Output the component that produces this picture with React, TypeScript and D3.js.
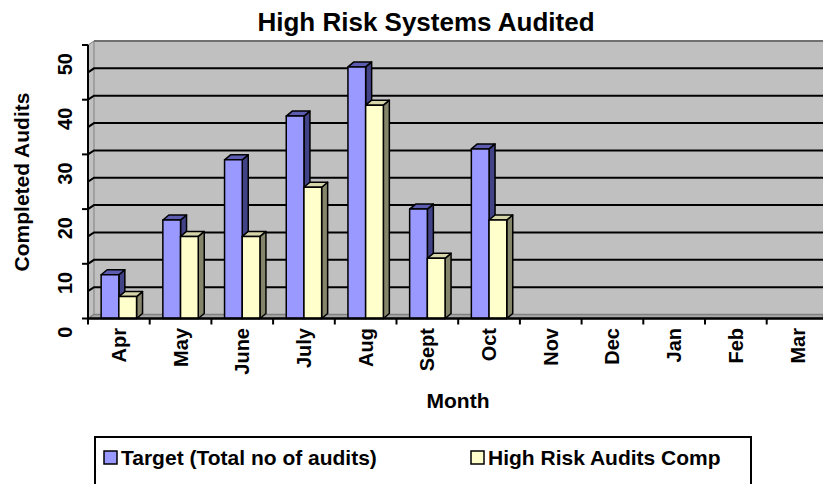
import React, { useRef, useEffect } from "react";
import * as d3 from "d3";

const months = ["Apr", "May", "June", "July", "Aug", "Sept", "Oct", "Nov", "Dec", "Jan", "Feb", "Mar"];
const targetAudits = [8, 18, 29, 37, 46, 20, 31];
const highRiskComp = [4, 15, 15, 24, 39, 11, 18];
const yTicks = [0, 10, 20, 30, 40, 50];
const gridValues = [5, 10, 15, 20, 25, 30, 35, 40, 45];
const seriesNames = ["Target (Total no of audits)", "High Risk Audits Comp"];

const FONT = "Arial, 'Liberation Sans', sans-serif";

export default function App() {
  const svgRef = useRef<SVGSVGElement>(null);

  useEffect(() => {
    const svg = d3.select(svgRef.current);
    svg.selectAll("*").remove();

    const W = 823, H = 484;
    const left = 88, bottom = 318.5, top = 45;
    const band = 61.7;
    const right = W;
    // 3d offsets: wall and bars
    const wdx = 6, wdy = -4;
    const bdx = 6, bdy = -5;

    const x = d3.scaleBand().domain(months).range([left, left + band * months.length]);
    const x1 = d3.scaleBand().domain(["t", "c"]).range([0, x.bandwidth()]).paddingOuter(0.743);
    const y = d3.scaleLinear().domain([0, 50]).range([bottom, top]);

    // back wall
    svg.append("rect")
      .attr("x", left + wdx).attr("y", y(50) + wdy)
      .attr("width", right - left - wdx).attr("height", y(0) - y(50))
      .style("fill", "#c0c0c0");
    // left side wall
    svg.append("polygon")
      .attr("points", [[left, y(50)], [left + wdx, y(50) + wdy], [left + wdx, y(0) + wdy], [left, y(0)]].join(" "))
      .style("fill", "#c0c0c0").style("stroke", "#808080").style("stroke-width", 1);
    // floor
    svg.append("polygon")
      .attr("points", [[left, y(0)], [left + wdx, y(0) + wdy], [right, y(0) + wdy], [right, y(0)]].join(" "))
      .style("fill", "#a8a8a8").style("stroke", "#808080").style("stroke-width", 1.5);
    // top edge of wall
    svg.append("line")
      .attr("x1", left + wdx).attr("x2", right)
      .attr("y1", y(50) + wdy).attr("y2", y(50) + wdy)
      .style("stroke", "#707070").style("stroke-width", 2);

    // gridlines, bent across side wall
    svg.selectAll("path.grid")
      .data(gridValues)
      .enter().append("path")
      .attr("class", "grid")
      .attr("d", v => `M${left},${y(v)}L${left + wdx},${y(v) + wdy}L${right},${y(v) + wdy}`)
      .style("fill", "none").style("stroke", "#000").style("stroke-width", 2);

    // bars
    const series = [
      { key: "t", values: targetAudits, front: "#9999ff", side: "#424287", topc: "#5c5cb0" },
      { key: "c", values: highRiskComp, front: "#ffffcc", side: "#85856b", topc: "#d6d6aa" },
    ];
    const bw = x1.bandwidth();
    months.forEach((m, i) => {
      series.forEach(s => {
        const v = s.values[i];
        if (v === undefined) return;
        const bx = (x(m) as number) + (x1(s.key) as number);
        const by = y(v);
        const g = svg.append("g").attr("class", "bar");
        g.append("polygon")
          .attr("points", [[bx + bw, by], [bx + bw + bdx, by + bdy], [bx + bw + bdx, y(0) + bdy], [bx + bw, y(0)]].join(" "))
          .style("fill", s.side);
        g.append("polygon")
          .attr("points", [[bx, by], [bx + bdx, by + bdy], [bx + bw + bdx, by + bdy], [bx + bw, by]].join(" "))
          .style("fill", s.topc);
        g.append("rect")
          .attr("x", bx).attr("y", by).attr("width", bw).attr("height", y(0) - by)
          .style("fill", s.front);
        g.selectAll("polygon, rect")
          .style("stroke", "#000").style("stroke-width", 1.5).style("stroke-linejoin", "round");
      });
    });

    // y axis
    svg.append("line")
      .attr("x1", left).attr("x2", left).attr("y1", y(50)).attr("y2", y(0) + 1)
      .style("stroke", "#000").style("stroke-width", 2);
    svg.selectAll("line.ytick")
      .data(yTicks).enter().append("line")
      .attr("x1", left - 6).attr("x2", left)
      .attr("y1", d => y(d)).attr("y2", d => y(d))
      .style("stroke", "#000").style("stroke-width", 2);
    svg.selectAll("text.ylab")
      .data(yTicks).enter().append("text")
      .attr("transform", d => `translate(72,${y(d) + 8}) rotate(-90)`)
      .attr("text-anchor", "end")
      .style("font-family", FONT).style("font-weight", "bold").style("font-size", "20px")
      .text(d => d);

    // x axis
    svg.append("line")
      .attr("x1", left).attr("x2", right).attr("y1", y(0)).attr("y2", y(0))
      .style("stroke", "#000").style("stroke-width", 2.5);
    svg.selectAll("line.xtick")
      .data(d3.range(months.length + 1)).enter().append("line")
      .attr("x1", i => left + i * band).attr("x2", i => left + i * band)
      .attr("y1", y(0)).attr("y2", y(0) + 6)
      .style("stroke", "#000").style("stroke-width", 2);
    svg.selectAll("text.xlab")
      .data(months).enter().append("text")
      .attr("transform", d => `translate(${(x(d) as number) + band / 2 + 7},328) rotate(-90)`)
      .attr("text-anchor", "end")
      .style("font-family", FONT).style("font-weight", "bold").style("font-size", "20px")
      .text(d => d);

    // titles
    svg.append("text")
      .attr("x", 426).attr("y", 31).attr("text-anchor", "middle")
      .style("font-family", FONT).style("font-weight", "bold").style("font-size", "26px")
      .text("High Risk Systems Audited");
    svg.append("text")
      .attr("transform", `translate(29,182) rotate(-90)`)
      .attr("text-anchor", "middle")
      .style("font-family", FONT).style("font-weight", "bold").style("font-size", "21px")
      .text("Completed Audits");
    svg.append("text")
      .attr("x", 458).attr("y", 408).attr("text-anchor", "middle")
      .style("font-family", FONT).style("font-weight", "bold").style("font-size", "21px")
      .text("Month");

    // legend
    svg.append("rect")
      .attr("x", 95).attr("y", 437).attr("width", 656).attr("height", 60)
      .style("fill", "#fff").style("stroke", "#000").style("stroke-width", 2);
    const legendX = [104, 471];
    seriesNames.forEach((name, i) => {
      svg.append("rect")
        .attr("x", legendX[i]).attr("y", 451).attr("width", 13).attr("height", 13)
        .style("fill", series[i].front).style("stroke", "#000").style("stroke-width", 1.5);
      svg.append("text")
        .attr("x", legendX[i] + 17).attr("y", 465)
        .style("font-family", FONT).style("font-weight", "bold").style("font-size", "21px")
        .text(name);
    });
  }, []);

  return (
    <svg ref={svgRef} width={823} height={484}
      style={{ position: "absolute", left: 0, top: 0, background: "#fff" }} />
  );
}
